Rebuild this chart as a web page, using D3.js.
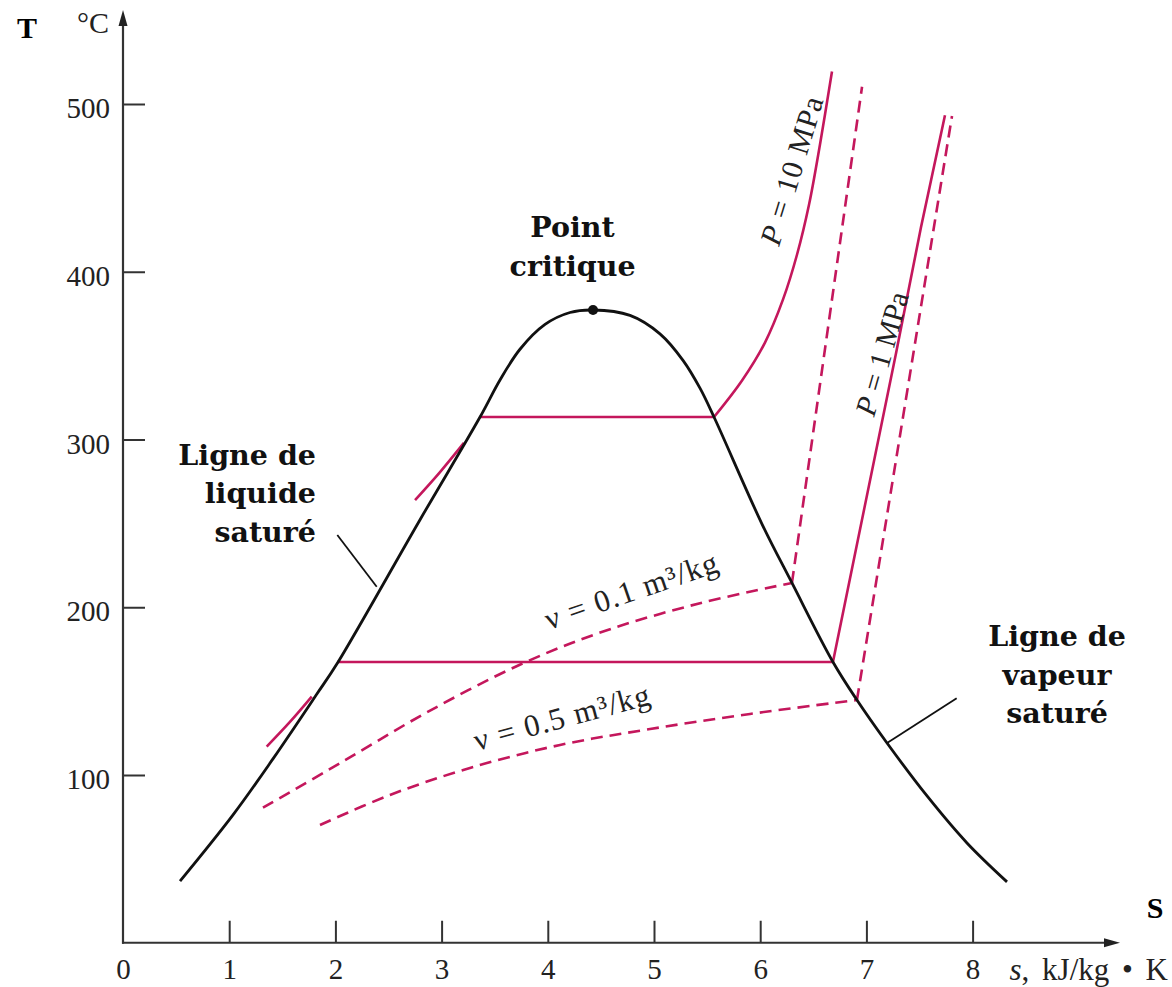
<!DOCTYPE html>
<html><head><meta charset="utf-8">
<script src="https://cdn.jsdelivr.net/npm/d3@7"></script>
<style>body{margin:0;background:#fff}svg{display:block}</style>
</head><body><svg id="c" width="1172" height="987"></svg>
<script>
// ---- data (s in kJ/kg·K, T in °C) ----
const xTicks = [0,1,2,3,4,5,6,7,8];
const yTicks = [100,200,300,400,500];
const saturationDome = [[0.537,36.7],[1.036,76.2],[1.412,109.6],[1.827,148.4],[2.015,166.3],[2.797,252.2],[3.362,313.4],[3.55,335.5],[3.738,353.8],[3.974,368.6],[4.209,375.7],[4.426,377.2],[4.774,374.0],[5.056,363.0],[5.273,347.2],[5.433,330.6],[5.565,313.4],[6.017,249.6],[6.299,214.5],[6.685,167.4],[6.911,144.7],[7.194,119.1],[7.571,87.5],[7.947,59.5],[8.324,36.3]];
const criticalPoint = [4.426,377.2];
const p10Liquid = [[2.75,263.9],[2.985,280.6],[3.21,298.0]];
const p10Mixture = [[3.362,313.4],[5.565,313.4]];
const p10Vapour = [[5.565,313.4],[5.829,335.2],[6.045,357.8],[6.215,383.5],[6.347,410.3],[6.46,440.1],[6.563,475.9],[6.676,519.4]];
const p1Liquid = [[1.353,116.9],[1.572,131.6],[1.777,146.7]];
const p1Mixture = [[2.015,167.4],[6.685,167.4]];
const p1Vapour = [[6.685,167.4],[6.958,252.0],[7.279,351.4],[7.514,426.5],[7.74,493.3]];
const v01Wet = [[1.318,80.5],[2.043,107.0],[2.863,137.4],[3.766,166.6],[4.557,186.3],[5.433,202.4],[6.299,214.5]];
const v01Vapour = [[6.299,214.5],[6.959,510.3]];
const v05Wet = [[1.855,70.2],[2.514,88.1],[3.267,104.2],[4.115,117.9],[4.963,127.4],[5.904,136.4],[6.911,144.7]];
const v05Vapour = [[6.911,144.7],[7.806,492.8]];

// ---- layout ----
const pink = "#c4175c";
const svg = d3.select("#c");
const x = d3.scaleLinear().domain([0,8]).range([123,972.6]);
const y = d3.scaleLinear().domain([0,500]).range([942.75,104]);
const serif = "'Liberation Serif','Times New Roman',serif";
const boldSerif = "'DejaVu Serif',serif";

const line = d3.line().x(d=>x(d[0])).y(d=>y(d[1])).curve(d3.curveCatmullRom.alpha(0.5));
const straight = d3.line().x(d=>x(d[0])).y(d=>y(d[1]));

// axes
const axG = svg.append("g").attr("font-family", serif);
const yAxis = axG.append("g").attr("transform",`translate(${x(0)},0)`)
  .call(d3.axisLeft(y).tickValues(yTicks).tickSize(-22).tickPadding(13));
const xAxis = axG.append("g").attr("transform",`translate(0,${y(0)})`)
  .call(d3.axisBottom(x).tickValues(xTicks).tickSize(-22).tickPadding(16));
[yAxis,xAxis].forEach(g=>{
  g.select(".domain").remove();
  g.selectAll(".tick line").attr("stroke","#333").attr("stroke-width",2);
  g.selectAll(".tick text").attr("font-size",29).attr("fill","#222").attr("font-family",serif);
});
yAxis.selectAll(".tick text").attr("dy","0.47em");
xAxis.selectAll(".tick").filter(d=>d===0).select("line").remove();

const yTop = 10, xRight = 1120;
axG.append("line").attr("x1",x(0)).attr("y1",y(0)+1).attr("x2",x(0)).attr("y2",yTop+8).attr("stroke","#333").attr("stroke-width",2.2);
axG.append("line").attr("x1",x(0)-1).attr("y1",y(0)).attr("x2",xRight-8).attr("y2",y(0)).attr("stroke","#333").attr("stroke-width",2.2);
axG.append("path").attr("d",`M${x(0)},${yTop} L${x(0)-4.5},${yTop+16} L${x(0)+4.5},${yTop+16}Z`).attr("fill","#222");
axG.append("path").attr("d",`M${xRight},${y(0)} L${xRight-16},${y(0)-4.5} L${xRight-16},${y(0)+4.5}Z`).attr("fill","#222");

// axis titles
svg.append("text").attr("x",27).attr("y",38).attr("text-anchor","middle").attr("font-family",serif).attr("font-weight","bold").attr("font-size",30).text("T");
svg.append("text").attr("x",77).attr("y",33).attr("font-family",serif).attr("font-size",30).attr("fill","#222").text("°C");
svg.append("text").attr("x",1155).attr("y",918).attr("text-anchor","middle").attr("font-family",serif).attr("font-weight","bold").attr("font-size",30).text("S");
const xt = svg.append("text").attr("x",1168).attr("y",y(0)+37).attr("text-anchor","end").attr("font-family",serif).attr("font-size",31).attr("word-spacing",5).attr("fill","#222");
xt.append("tspan").attr("font-style","italic").text("s");
xt.append("tspan").text(", kJ/kg \u2022 K");

// pink process lines
const pg = svg.append("g").attr("fill","none").attr("stroke",pink).attr("stroke-width",2.6);
[p10Liquid,p10Vapour,p1Liquid].forEach(d=>pg.append("path").attr("d",line(d)));
[p10Mixture,p1Mixture,p1Vapour].forEach(d=>pg.append("path").attr("d",straight(d)));
[v01Wet,v05Wet].forEach(d=>pg.append("path").attr("d",line(d)).attr("stroke-dasharray","12,7"));
[v01Vapour,v05Vapour].forEach(d=>pg.append("path").attr("d",straight(d)).attr("stroke-dasharray","12,7"));

// saturation dome
svg.append("path").attr("d",line(saturationDome)).attr("fill","none").attr("stroke","#111").attr("stroke-width",2.8);
svg.append("circle").attr("cx",x(criticalPoint[0])).attr("cy",y(criticalPoint[1])).attr("r",5).attr("fill","#111");

// pointers
const ptr = [[[2.018,243.1],[2.389,212.2]],[[7.85,145.7],[7.191,118.9]]];
ptr.forEach(p=>svg.append("path").attr("d",straight(p)).attr("stroke","#111").attr("stroke-width",1.8).attr("fill","none"));

// bold labels
function boldLabel(lines, s, t0, anchor){
  const tx = svg.append("text").attr("font-family",boldSerif).attr("font-weight","bold").attr("font-size",28.5).attr("text-anchor",anchor).attr("fill","#111");
  lines.forEach((l,i)=>tx.append("tspan").attr("x",x(s)).attr("y",y(t0)+i*38.5).text(l));
}
boldLabel(["Point","critique"], 4.233, 420.7, "middle");
boldLabel(["Ligne de","liquide","saturé"], 1.817, 284.8, "end");
boldLabel(["Ligne de","vapeur","saturé"], 8.795, 176.9, "middle");

// rotated line labels
function rotLabel(parts, s, t, ang, fs, ls){
  const px=x(s), py=y(t);
  const tx = svg.append("text").attr("transform",`translate(${px},${py}) rotate(${ang})`).attr("font-family",serif).attr("font-size",fs).attr("letter-spacing",ls).attr("fill","#222");
  parts.forEach(p=>{const ts=tx.append("tspan").text(p[0]); if(p[1]) ts.attr("font-style","italic");});
}
rotLabel([["P",1],[" = 10 MPa"]], 6.176, 414.8, -73, 30, 1);
rotLabel([["P",1],[" = 1 MPa"]], 7.072, 313.1, -74, 29.5, 0);
rotLabel([["\u03bd = 0.1 m\u00b3/kg"]], 4.011, 186.4, -19, 31, 1.2);
rotLabel([["\u03bd = 0.5 m\u00b3/kg"]], 3.333, 114.3, -15, 31, 1.2);
</script></body></html>
